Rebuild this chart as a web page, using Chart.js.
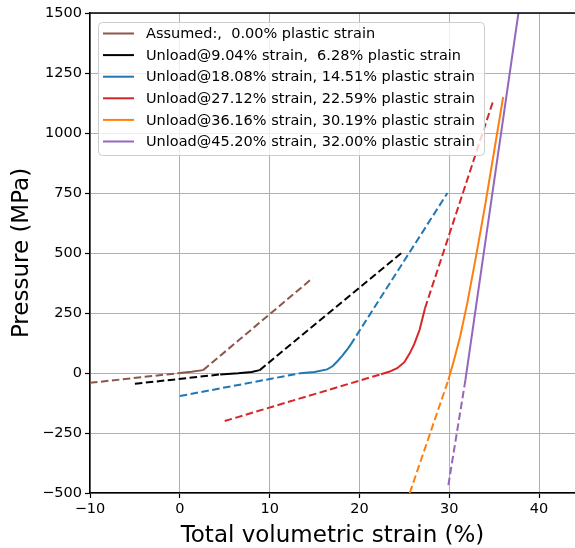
<!DOCTYPE html>
<html>

<head>
    <title>Pressure vs volumetric strain</title>
    <script src="https://cdn.jsdelivr.net/npm/chart.js@4"></script>
    <style type="text/css">
        html,
        body {
            margin: 0;
            padding: 0;
            background-color: #ffffff;
        }
    </style>
</head>

<body>
    <canvas id="chartStrain" width="575" height="548"></canvas>
    <script>
        const fontName = "'DejaVu Sans', sans-serif";

        const seriesNames = [
            "Assumed:,  0.00% plastic strain",
            "Unload@9.04% strain,  6.28% plastic strain",
            "Unload@18.08% strain, 14.51% plastic strain",
            "Unload@27.12% strain, 22.59% plastic strain",
            "Unload@36.16% strain, 30.19% plastic strain",
            "Unload@45.20% strain, 32.00% plastic strain"
        ];
        const seriesColors = ["#8c564b", "#000000", "#1f77b4", "#d62728", "#ff7f0e", "#9467bd"];

        // strain (%) and pressure (MPa)
        const assumedX = [-10, 0, 1.3, 2.6, 14.8];
        const assumedY = [-41, 0, 5, 12, 396];
        const unload9X = [-5, 4.5, 6.5, 8, 8.9, 24.8];
        const unload9Y = [-45, -6, -1, 4, 12, 504];
        const unload18X = [0, 13.4, 15, 16.4, 17, 17.5, 18.1, 18.6, 19.0, 29.8];
        const unload18Y = [-96, -1, 4, 15, 28, 47, 72, 96, 117, 750];
        const unload27X = [5, 22.4, 23.3, 24.2, 25, 25.6, 26.1, 26.7, 27.3, 34.9];
        const unload27Y = [-200, -5, 5, 20, 45, 82, 120, 180, 270, 1135];
        const unload36X = [25.6, 29.9, 30.5, 31.2, 32, 33, 34, 36];
        const unload36Y = [-500, -29, 50, 150, 290, 490, 700, 1150];
        const unload45X = [29.9, 31.8, 37.7];
        const unload45Y = [-467, -29, 1500];

        // index range of the solid (measured) part of each curve, rest is dashed
        const solidRanges = [[1, 3], [1, 4], [1, 8], [1, 8], [1, 7], [1, 2]];

        const allX = [assumedX, unload9X, unload18X, unload27X, unload36X, unload45X];
        const allY = [assumedY, unload9Y, unload18Y, unload27Y, unload36Y, unload45Y];

        const xTicks = [-10, 0, 10, 20, 30, 40];
        const yTicks = [-500, -250, 0, 250, 500, 750, 1000, 1250, 1500];

        function MinusSign(v) {
            return String(v).replace("-", "\u2212");
        }

        let datasets = allX.map(function(xs, k) {
            let range = solidRanges[k];
            return {
                label: seriesNames[k],
                data: xs.map(function(x, i) { return { x: x, y: allY[k][i] }; }),
                borderColor: seriesColors[k],
                borderWidth: 2,
                pointRadius: 0,
                tension: 0,
                fill: false,
                order: 6 - k,
                segment: {
                    borderDash: function(c) {
                        if (c.p0DataIndex >= range[0] && c.p1DataIndex <= range[1]) return [];
                        return [7.5, 3.5];
                    }
                }
            };
        });

        const legendBox = {
            id: "legendBox",
            afterDraw: function(chart) {
                let ctx = chart.ctx;
                let area = chart.chartArea;
                ctx.save();
                // top spine
                ctx.strokeStyle = "#000";
                ctx.lineWidth = 1.5;
                ctx.beginPath();
                ctx.moveTo(area.left, area.top);
                ctx.lineTo(area.right, area.top);
                ctx.stroke();

                let bx = 98.5, by = 22.5, bw = 386, bh = 133;
                ctx.beginPath();
                ctx.roundRect(bx, by, bw, bh, 4);
                ctx.fillStyle = "rgba(255,255,255,0.8)";
                ctx.fill();
                ctx.strokeStyle = "#cccccc";
                ctx.lineWidth = 1;
                ctx.stroke();

                ctx.font = "14.5px " + fontName;
                ctx.textBaseline = "middle";
                ctx.textAlign = "left";
                for (let i = 0; i < seriesNames.length; i++) {
                    let y = 33.5 + i * 21.6;
                    ctx.strokeStyle = seriesColors[i];
                    ctx.lineWidth = 2;
                    ctx.beginPath();
                    ctx.moveTo(103, y);
                    ctx.lineTo(134, y);
                    ctx.stroke();
                    ctx.fillStyle = "#000";
                    ctx.fillText(seriesNames[i], 146, y + 1);
                }
                ctx.restore();
            }
        };

        let ctx = document.getElementById("chartStrain").getContext("2d");
        let strainChart = new Chart(ctx, {
            type: "line",
            data: { datasets: datasets },
            plugins: [legendBox],
            options: {
                responsive: false,
                animation: false,
                layout: { padding: { top: 13, right: 0, left: 0, bottom: 0 } },
                plugins: {
                    legend: { display: false },
                    tooltip: { enabled: false }
                },
                scales: {
                    x: {
                        type: "linear",
                        min: -10,
                        max: 44,
                        afterBuildTicks: function(s) { s.ticks = xTicks.map(function(v) { return { value: v }; }); },
                        afterFit: function(s) { s.height = 55; },
                        ticks: {
                            color: "#000",
                            padding: 3,
                            maxRotation: 0,
                            font: { family: fontName, size: 14.5 },
                            callback: function(v) { return MinusSign(v); }
                        },
                        grid: { color: "#b0b0b0", lineWidth: 1, tickLength: 5, tickColor: "#000", tickWidth: 1.2 },
                        border: { color: "#000", width: 1.5 },
                        title: {
                            display: true,
                            text: "Total volumetric strain (%)",
                            color: "#000",
                            font: { family: fontName, size: 23, lineHeight: 1.0 },
                            padding: { top: 0, bottom: 0 }
                        }
                    },
                    y: {
                        type: "linear",
                        min: -500,
                        max: 1500,
                        afterBuildTicks: function(s) { s.ticks = yTicks.map(function(v) { return { value: v }; }); },
                        afterFit: function(s) { s.width = 90; },
                        ticks: {
                            color: "#000",
                            padding: 3,
                            font: { family: fontName, size: 14.5 },
                            callback: function(v) { return MinusSign(v); }
                        },
                        grid: { color: "#b0b0b0", lineWidth: 1, tickLength: 5, tickColor: "#000", tickWidth: 1.2 },
                        border: { color: "#000", width: 1.5 },
                        title: {
                            display: true,
                            text: "Pressure (MPa)",
                            color: "#000",
                            font: { family: fontName, size: 23 },
                            padding: { top: 8, bottom: 0 }
                        }
                    }
                }
            }
        });
    </script>
</body>

</html>
